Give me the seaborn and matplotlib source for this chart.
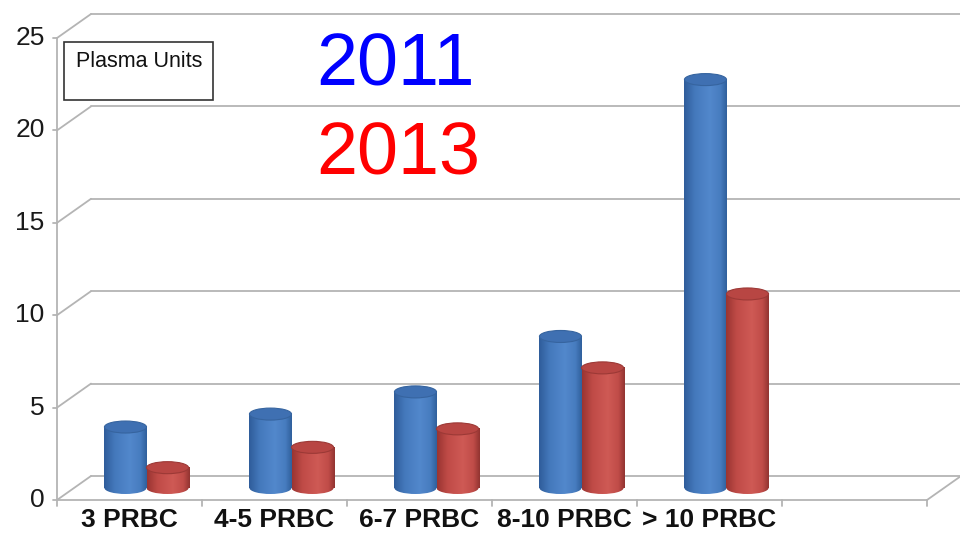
import numpy as np
import pandas as pd
import matplotlib
matplotlib.use("Agg")
import matplotlib.pyplot as plt
import seaborn as sns
from matplotlib.patches import Ellipse, Rectangle
from matplotlib.transforms import ScaledTranslation
from matplotlib.colors import LinearSegmentedColormap

# ---- data ----
categories = ["3 PRBC", "4-5 PRBC", "6-7 PRBC", "8-10 PRBC", "> 10 PRBC"]
years = ["2011", "2013"]
values_2011 = [3.3, 4.0, 5.2, 8.2, 22.1]
values_2013 = [1.1, 2.2, 3.2, 6.5, 10.5]
y_ticks = [0, 5, 10, 15, 20, 25]
box_label = "Plasma Units"
year_colors = {"2011": "#0000ff", "2013": "#ff0000"}

df = pd.DataFrame({
    "category": categories * 2,
    "value": values_2011 + values_2013,
    "year": [years[0]] * len(categories) + [years[1]] * len(categories),
})

sns.set_theme(style="white")
plt.rcParams["font.family"] = ["Liberation Sans", "DejaVu Sans"]

W, H = 960, 537
fig = plt.figure(figsize=(W / 100, H / 100), dpi=100)
fig.patch.set_facecolor("white")
# plot area (mid-depth plane of the pseudo-3D chart)
ax = fig.add_axes([74 / W, 49 / H, 870 / W, 462 / H])
ax.patch.set_alpha(0)

bar_palette = {"2011": "#4a7fc0", "2013": "#c44f4b"}
sns.barplot(data=df, x="category", y="value", hue="year", order=categories,
            hue_order=years, palette=bar_palette, width=0.58, gap=0,
            dodge=True, legend=False, ax=ax, errorbar=None)

XMIN, XMAX, YMAX = -0.5, 5.5, 25
ax.set_xlim(XMIN, XMAX)
ax.set_ylim(0, YMAX)
ax.axis("off")

# depth geometry (pixels -> data units)
px_x = 870 / 6.0
px_y = 462 / 25.0
front = ax.transData + ScaledTranslation(-17 / 100, -12 / 100, fig.dpi_scale_trans)
ddx, ddy = 34 / px_x, 24 / px_y
grid_c = "#b4b4b4"

# back wall gridlines + side diagonals + front axis
for t in y_ticks:
    ax.plot([XMIN + ddx, XMAX + ddx], [t + ddy, t + ddy], transform=front,
            color=grid_c, lw=1.3, clip_on=False, zorder=0)
    ax.plot([XMIN, XMIN + ddx], [t, t + ddy], transform=front,
            color=grid_c, lw=1.3, clip_on=False, zorder=0)
    ax.plot([XMIN - 0.025, XMIN], [t, t], transform=front,
            color=grid_c, lw=1.3, clip_on=False, zorder=0)
    ax.text(XMIN - 0.085, t, str(t), transform=front, ha="right", va="center",
            fontsize=19, color="#1a1a1a")
ax.plot([XMIN, XMIN], [0, YMAX], transform=front, color=grid_c, lw=1.3,
        clip_on=False, zorder=0)
# floor
ax.plot([XMIN, XMAX], [0, 0], transform=front, color=grid_c, lw=1.3,
        clip_on=False, zorder=0)
ax.plot([XMAX, XMAX + ddx], [0, ddy], transform=front, color=grid_c, lw=1.3,
        clip_on=False, zorder=0)
for b in np.arange(XMIN, XMAX + 0.01, 1.0):
    ax.plot([b, b], [0, -0.3], transform=front, color=grid_c, lw=1.3,
            clip_on=False, zorder=0)

# category labels
for i, c in enumerate(categories):
    ax.text(i, -0.45, c, transform=front, ha="center", va="top",
            fontsize=19, fontweight="bold", color="#111111")

# cylinder shading
cmaps = {
    "2011": LinearSegmentedColormap.from_list(
        "b", [(0, "#2f5c9a"), (0.25, "#4479bc"), (0.6, "#5288cc"),
              (0.85, "#477cbf"), (1, "#30609c")]),
    "2013": LinearSegmentedColormap.from_list(
        "r", [(0, "#9a3532"), (0.25, "#c04b47"), (0.6, "#cf5a55"),
              (0.85, "#c04c48"), (1, "#923431")]),
}
caps = {"2011": ("#3f70b2", "#36649f"), "2013": ("#b84643", "#9c3936")}
grad = np.linspace(0, 1, 200).reshape(1, -1)
ell_h = 12 / px_y

n = len(categories)
for k, p in enumerate(ax.patches[: 2 * n]):
    yr = years[k // n]
    x0, w, h = p.get_x(), p.get_width(), p.get_height()
    p.set_visible(False)
    z = 2 + k * 0.01
    ax.imshow(grad, extent=(x0, x0 + w, 0, h), aspect="auto",
              cmap=cmaps[yr], zorder=z, interpolation="bilinear")
    bottom = Ellipse((x0 + w / 2, 0), w, ell_h, transform=ax.transData)
    im2 = ax.imshow(grad, extent=(x0, x0 + w, -ell_h / 2, ell_h / 2),
                    aspect="auto", cmap=cmaps[yr], zorder=z,
                    interpolation="bilinear")
    im2.set_clip_box(fig.bbox)
    im2.set_clip_path(bottom)
    ax.add_patch(Ellipse((x0 + w / 2, h), w, ell_h, facecolor=caps[yr][0],
                         edgecolor=caps[yr][1], lw=0.8, zorder=z + 0.005,
                         clip_on=False))

ax.set_xlim(XMIN, XMAX)
ax.set_ylim(0, YMAX)

# legend-like box and year labels
fig.add_artist(Rectangle((64 / W, 1 - 100 / H), 149 / W, 58 / H,
                         transform=fig.transFigure, fill=False,
                         edgecolor="#333333", lw=1.2))
fig.text(76 / W, 1 - 67 / H, box_label, fontsize=15.5, color="#111111",
         va="baseline", ha="left")
fig.text(316 / W, 1 - 85 / H, years[0], fontsize=53,
         color=year_colors[years[0]], va="baseline", ha="left")
fig.text(316 / W, 1 - 175 / H, years[1], fontsize=53,
         color=year_colors[years[1]], va="baseline", ha="left")

fig.savefig("out.png", dpi=100)
